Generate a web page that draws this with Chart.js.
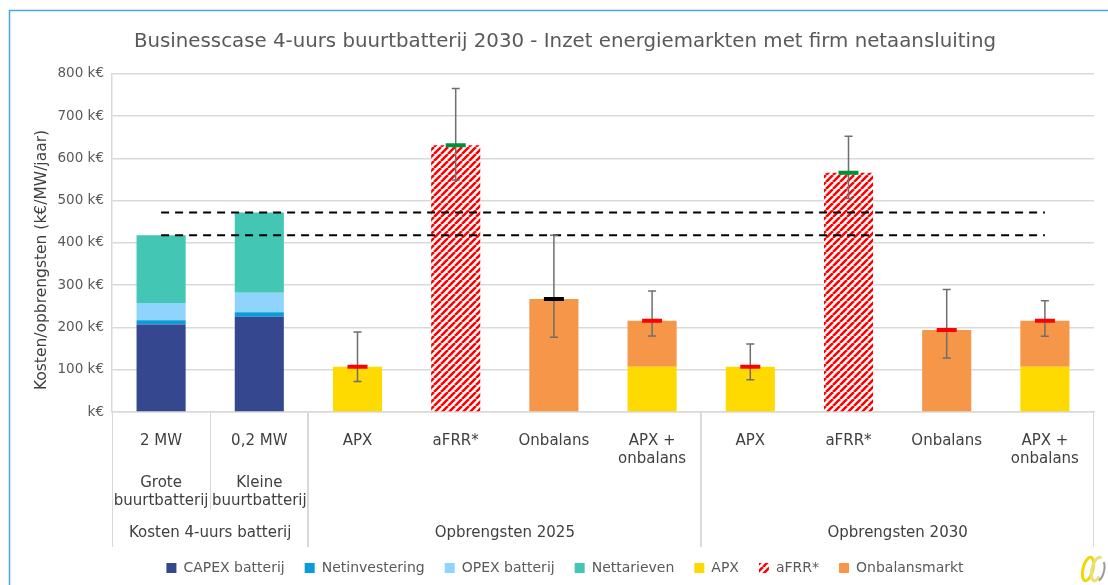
<!DOCTYPE html>
<html>
<head>
<meta charset="utf-8">
<script src="https://cdn.jsdelivr.net/npm/chart.js@4.4.1/dist/chart.umd.min.js"></script>
<style>
  html, body { margin: 0; padding: 0; background: #fff; overflow: hidden; }
  #wrap { width: 1108px; height: 585px; position: relative; overflow: hidden; }
  canvas { display: block; }
</style>
</head>
<body>
<div id="wrap"><canvas id="myChart"></canvas></div>
<script>
// categories / axis labels
const labels = ['2 MW', '0,2 MW', 'APX', 'aFRR*', 'Onbalans', ['APX +', 'onbalans'], 'APX', 'aFRR*', 'Onbalans', ['APX +', 'onbalans']]
const subLabels = [['Grote', 'buurtbatterij'], ['Kleine', 'buurtbatterij']]
const groupLabels = ['Kosten 4-uurs batterij', 'Opbrengsten 2025', 'Opbrengsten 2030']
const groupSizes = [2, 4, 4]
const yTicks = [0, 100, 200, 300, 400, 500, 600, 700, 800]

// series (k€/MW/jaar)
const capex = [207, 225, null, null, null, null, null, null, null, null]
const netInvest = [10, 11, null, null, null, null, null, null, null, null]
const opex = [41, 46, null, null, null, null, null, null, null, null]
const netTarief = [160, 190, null, null, null, null, null, null, null, null]
const apx = [null, null, 107, null, null, 107, 107, null, null, 107]
const afrr = [null, null, null, 631, null, null, null, 566, null, null]
const onbalans = [null, null, null, null, 267, 109, null, null, 194, 109]
const costLarge = [418, 418, 418, 418, 418, 418, 418, 418, 418, 418]
const costSmall = [472, 472, 472, 472, 472, 472, 472, 472, 472, 472]
const markerVals = [null, null, 107, 631, 267, 216, 107, 566, 194, 216]
const markerColors = ['#000', '#000', '#ff0000', '#009035', '#000000', '#ff0000', '#ff0000', '#009035', '#ff0000', '#ff0000']
const errLow = [null, null, 72, 549, 177, 180, 76, 505, 128, 179]
const errHigh = [null, null, 189, 765, 418, 286, 161, 652, 290, 263]

const FONT = '"DejaVu Sans", Verdana, sans-serif'
Chart.defaults.font.family = FONT
Chart.defaults.color = '#595959'

function hatch() {
    const s = 7
    const c = document.createElement('canvas')
    c.width = s
    c.height = s
    const g = c.getContext('2d')
    g.fillStyle = '#fff'
    g.fillRect(0, 0, s, s)
    g.strokeStyle = '#ff0000'
    g.lineWidth = 2.6
    g.beginPath()
    for (const k of [-1, 0, 1]) {
        g.moveTo(k * s, s)
        g.lineTo(k * s + s, 0)
    }
    g.stroke()
    return g.createPattern(c, 'repeat')
}

const MARKER_INDEX = 9

// whiskers drawn just before the coloured markers, so markers sit on top
const errorBars = {
    id: 'errorBars',
    beforeDatasetDraw(chart, args) {
        if (args.index !== MARKER_INDEX) return
        const x = chart.scales.x, y = chart.scales.y, ctx = chart.ctx
        ctx.save()
        ctx.strokeStyle = '#6e6e6e'
        ctx.lineWidth = 1.5
        errHigh.forEach((hi, i) => {
            if (hi == null) return
            const px = x.getPixelForValue(i)
            const top = y.getPixelForValue(hi)
            const bot = y.getPixelForValue(errLow[i])
            ctx.beginPath()
            ctx.moveTo(px, top); ctx.lineTo(px, bot)
            ctx.moveTo(px - 4, top); ctx.lineTo(px + 4, top)
            ctx.moveTo(px - 4, bot); ctx.lineTo(px + 4, bot)
            ctx.stroke()
        })
        ctx.restore()
    }
}

// the three levels of the category axis, y title, frame and logo
const xLevels = {
    id: 'xLevels',
    beforeDraw(chart) {
        const ctx = chart.ctx
        ctx.save()
        ctx.strokeStyle = '#4aa8dc'
        ctx.lineWidth = 1.5
        ctx.strokeRect(9.5, 10.5, chart.width, chart.height)
        ctx.restore()
    },
    afterDraw(chart) {
        const ctx = chart.ctx, x = chart.scales.x, area = chart.chartArea
        const half = (x.getPixelForValue(1) - x.getPixelForValue(0)) / 2
        const b = area.bottom
        ctx.save()
        ctx.fillStyle = '#404040'
        ctx.font = '15px ' + FONT
        ctx.textAlign = 'center'
        ctx.textBaseline = 'middle'
        labels.forEach((lab, i) => {
            const lines = Array.isArray(lab) ? lab : [lab]
            lines.forEach((t, j) => ctx.fillText(t, x.getPixelForValue(i), b + 29 + j * 18))
        })
        subLabels.forEach((lines, i) => {
            lines.forEach((t, j) => ctx.fillText(t, x.getPixelForValue(i), b + 71 + j * 18))
        })
        ctx.strokeStyle = '#d9d9d9'
        ctx.lineWidth = 1
        let start = 0
        groupSizes.forEach((n, g) => {
            const left = x.getPixelForValue(start) - half
            const right = x.getPixelForValue(start + n - 1) + half
            ctx.fillText(groupLabels[g], (left + right) / 2, b + 121)
            ctx.beginPath()
            ctx.moveTo(Math.round(left) + 0.5, b); ctx.lineTo(Math.round(left) + 0.5, b + 135)
            ctx.moveTo(Math.round(right) - 0.5, b); ctx.lineTo(Math.round(right) - 0.5, b + 135)
            ctx.stroke()
            start += n
        })
        // separator inside the cost group
        const mid = Math.round(x.getPixelForValue(0) + half) + 0.5
        ctx.beginPath()
        ctx.moveTo(mid, b); ctx.lineTo(mid, b + 98)
        ctx.stroke()

        // y axis title, centred like in the original (plot + category block)
        ctx.fillStyle = '#404040'
        ctx.font = '15.5px ' + FONT
        ctx.translate(42, 260)
        ctx.rotate(-Math.PI / 2)
        ctx.fillText('Kosten/opbrengsten (k€/MW/jaar)', 0, 0)
        ctx.restore()

        // small logo, bottom right
        ctx.save()
        ctx.lineWidth = 3
        ctx.strokeStyle = '#f2d600'
        ctx.beginPath(); ctx.ellipse(1088, 569, 5, 12, 0.25, 0, Math.PI * 2); ctx.stroke()
        ctx.strokeStyle = '#e8e07a'
        ctx.beginPath(); ctx.ellipse(1097, 569, 5, 12, 0.25, 0.6, Math.PI * 1.6); ctx.stroke()
        ctx.strokeStyle = '#9a9a9a'
        ctx.lineWidth = 2
        ctx.beginPath(); ctx.ellipse(1100, 571, 4, 10, 0.25, Math.PI * 1.6, Math.PI * 2.4); ctx.stroke()
        ctx.restore()
    }
}

const stripes = hatch()
const barBase = { type: 'bar', stack: 'bars', order: 2, borderWidth: 0, barPercentage: 1, categoryPercentage: 0.5 }
const dashed = { type: 'line', order: 1, borderColor: '#000', borderWidth: 2, borderDash: [8, 6], pointRadius: 0, fill: false }

const ctx = document.getElementById('myChart')
new Chart(ctx, {
    data: {
        labels: labels,
        datasets: [
            { ...barBase, label: 'CAPEX batterij', data: capex, backgroundColor: '#35478f' },
            { ...barBase, label: 'Netinvestering', data: netInvest, backgroundColor: '#0a9bd8' },
            { ...barBase, label: 'OPEX batterij', data: opex, backgroundColor: '#8fd4fc' },
            { ...barBase, label: 'Nettarieven', data: netTarief, backgroundColor: '#43c6b4' },
            { ...barBase, label: 'APX', data: apx, backgroundColor: '#ffda00' },
            { ...barBase, label: 'aFRR*', data: afrr, backgroundColor: stripes },
            { ...barBase, label: 'Onbalansmarkt', data: onbalans, backgroundColor: '#f69648' },
            { ...dashed, label: 'kosten groot', data: costLarge, stack: 'l1' },
            { ...dashed, label: 'kosten klein', data: costSmall, stack: 'l2' },
            {
                type: 'line', label: 'markers', data: markerVals, stack: 'm', order: 0,
                showLine: false, pointStyle: 'line', pointRadius: 10, pointHoverRadius: 10,
                pointBorderWidth: 4, pointBorderColor: markerColors, pointBackgroundColor: markerColors
            }
        ]
    },
    options: {
        responsive: true,
        maintainAspectRatio: false,
        animation: false,
        layout: { padding: { left: 30, right: 8, top: 0, bottom: 0 } },
        scales: {
            x: {
                stacked: true,
                grid: { display: false },
                border: { display: true, color: '#d9d9d9', width: 1.5 },
                // labels are drawn by the xLevels plugin at the scale's category centres
                ticks: { display: false },
                afterFit: (s) => { s.height = 129 }
            },
            y: {
                stacked: true,
                min: 0,
                max: 800,
                afterBuildTicks: (s) => { s.ticks = yTicks.map(v => ({ value: v })) },
                grid: { color: '#d9d9d9', lineWidth: 1.5, drawTicks: false },
                border: { display: true, color: '#d9d9d9', width: 1.5 },
                ticks: {
                    padding: 8,
                    font: { size: 13.5 },
                    callback: (v) => v === 0 ? 'k€' : v + ' k€'
                },
                afterFit: (s) => { s.width = 82 }
            }
        },
        plugins: {
            title: {
                display: true,
                text: 'Businesscase 4-uurs buurtbatterij 2030 - Inzet energiemarkten met firm netaansluiting',
                font: { size: 19.8, weight: 'normal' },
                color: '#595959',
                padding: { top: 30, bottom: 20 }
            },
            legend: {
                position: 'bottom',
                labels: {
                    boxWidth: 10,
                    boxHeight: 10,
                    padding: 20,
                    color: '#595959',
                    font: { size: 14 },
                    filter: (item) => item.datasetIndex < 7
                }
            },
            tooltip: { enabled: false }
        }
    },
    plugins: [errorBars, xLevels]
})
</script>
</body>
</html>
